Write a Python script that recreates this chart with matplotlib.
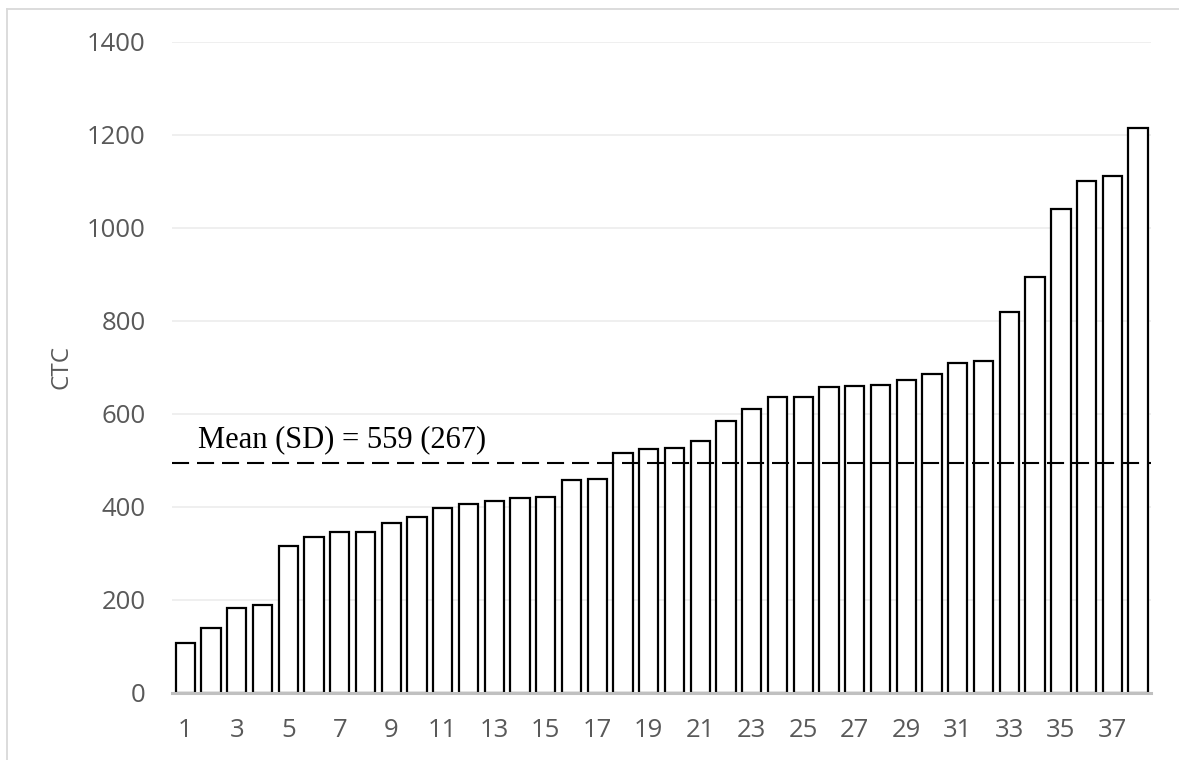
import matplotlib
matplotlib.use("Agg")
import matplotlib.pyplot as plt
from matplotlib.lines import Line2D

# Data
patients = list(range(1, 39))
ctc = [107, 139, 183, 189, 315, 335, 346, 346, 365, 378,
       398, 405, 413, 419, 421, 458, 460, 515, 524, 527,
       541, 584, 611, 636, 636, 657, 660, 662, 672, 685,
       710, 714, 818, 895, 1041, 1100, 1111, 1214]
mean_line = 493
mean_label = "Mean (SD) = 559 (267)"
yticks = [0, 200, 400, 600, 800, 1000, 1200, 1400]
xtick_pos = list(range(1, 38, 2))

W, H = 1179, 760
fig = plt.figure(figsize=(W / 100, H / 100), dpi=100)
ax = fig.add_axes([172.3 / W, 1 - 692.7 / H, (1151 - 172.3) / W, (692.7 - 41.7) / H])

ax.bar(patients, ctc, width=0.75, color="white", edgecolor="black", linewidth=1.6, zorder=3)

ax.set_xlim(0.5, 38.5)
ax.set_ylim(0, 1400)
ax.set_yticks(yticks)
ax.set_xticks(xtick_pos)
ax.set_xticklabels([str(v) for v in xtick_pos])

ax.yaxis.grid(True, color="#eeeeee", linewidth=1.3, zorder=0)
ax.set_axisbelow(True)
for s in ["top", "right", "left"]:
    ax.spines[s].set_visible(False)
ax.spines["bottom"].set_color("#c0c0c0")
ax.spines["bottom"].set_linewidth(2.2)
ax.spines["bottom"].set_zorder(4)

tick_font = "Open Sans"
ax.tick_params(axis="both", length=0, colors="#595959", labelsize=18.5)
ax.tick_params(axis="y", pad=19)
ax.tick_params(axis="x", pad=18)
for lab in ax.get_xticklabels() + ax.get_yticklabels():
    lab.set_fontfamily(tick_font)

ax.set_ylabel("CTC", fontsize=17.5, color="#595959", fontfamily=tick_font, labelpad=10)

ax.axhline(mean_line, color="black", linewidth=1.5, dashes=(8.2, 3.8), zorder=5)
ax.text(1.5, 528, mean_label, fontsize=22, fontfamily="Liberation Serif",
        ha="left", va="baseline", color="black", zorder=6)

# Outer chart border (left and top)
fig.add_artist(Line2D([7 / W, 7 / W], [0, 1 - 9 / H], transform=fig.transFigure,
                      color="#d9d9d9", linewidth=1.3))
fig.add_artist(Line2D([7 / W, 1], [1 - 9 / H, 1 - 9 / H], transform=fig.transFigure,
                      color="#d9d9d9", linewidth=1.3))

fig.savefig("out.png", dpi=100)
